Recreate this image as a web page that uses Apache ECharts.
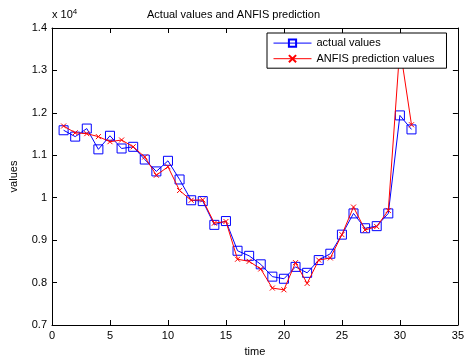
<!DOCTYPE html>
<html>
<head>
<meta charset="utf-8">
<script src="https://cdn.jsdelivr.net/npm/echarts@6/dist/echarts.min.js"></script>
<style>html,body{margin:0;padding:0;background:#fff;}#c{width:467px;height:362px;}</style>
</head>
<body>
<div id="c"></div>
<script>
var time = [1,2,3,4,5,6,7,8,9,10,11,12,13,14,15,16,17,18,19,20,21,22,23,24,25,26,27,28,29,30,31];
var actualValues = [11590,11440,11630,11140,11460,11160,11200,10900,10620,10870,10430,9940,9920,9360,9450,8750,8630,8430,8140,8090,8370,8230,8530,8680,9130,9630,9280,9330,9630,11940,11610];
var anfisValues = [11690,11530,11510,11440,11320,11360,11200,10960,10530,10730,10170,9940,9950,9400,9440,8550,8500,8320,7870,7830,8470,7980,8530,8580,9130,9780,9240,9320,9700,13550,11720];
var yTicks = [0.7,0.8,0.9,1,1.1,1.2,1.3,1.4];

var font = 'Liberation Sans, Arial, Helvetica, sans-serif';
function pairs(xs, ys){ return xs.map(function(x,i){return [x, ys[i]];}); }

var chart = echarts.init(document.getElementById('c'), null, {renderer:'canvas'});
var axisCommon = {
  axisLine:{show:true, onZero:false, lineStyle:{color:'#000', width:1}},
  axisTick:{show:true, inside:true, length:5, lineStyle:{color:'#000'}},
  splitLine:{show:false}
};
chart.setOption({
  animation:false,
  backgroundColor:'#fff',
  title:{text:'Actual values and ANFIS prediction', left:'center', top:4,
    textStyle:{fontFamily:font, fontSize:11, fontWeight:'normal', color:'#000'}},
  grid:{left:51, right:6, top:28, bottom:33},
  legend:{
    orient:'vertical', left:267, top:33, width:174,
    backgroundColor:'#fff', borderColor:'#000', borderWidth:1,
    padding:[4,12,4,6], itemGap:4, itemWidth:38, itemHeight:9,
    lineStyle:{width:1},
    textStyle:{fontFamily:font, fontSize:11, color:'#000'},
    data:['actual values','ANFIS prediction values']
  },
  xAxis:[
    Object.assign({type:'value', min:0, max:35, interval:5, position:'bottom',
      name:'time', nameLocation:'middle', nameGap:21,
      nameTextStyle:{fontFamily:font, fontSize:11, color:'#000'},
      axisLabel:{fontFamily:font, fontSize:11, color:'#000', margin:5}}, axisCommon),
    Object.assign({type:'value', min:0, max:35, interval:5, position:'top',
      axisLabel:{show:false}}, axisCommon)
  ],
  yAxis:[
    Object.assign({type:'value', min:7000, max:14000, interval:1000, position:'left',
      name:'values', nameLocation:'middle', nameGap:33,
      nameTextStyle:{fontFamily:font, fontSize:11, color:'#000'},
      axisLabel:{fontFamily:font, fontSize:11, color:'#000', margin:5,
        formatter:function(v){ var t = Math.round(v/100)/100; var i = yTicks.indexOf(t); return String(i >= 0 ? yTicks[i] : t); }}}, axisCommon),
    Object.assign({type:'value', min:7000, max:14000, interval:1000, position:'right',
      axisLabel:{show:false}}, axisCommon)
  ],
  graphic:[{
    type:'text', left:52, top:8,
    style:{text:'x 10{s|4}', fill:'#000', font:'11px ' + font,
      rich:{s:{fontSize:8, fontFamily:font, verticalAlign:'top', padding:[0,0,6,0]}}}
  }],
  series:[
    {name:'actual values', type:'line', data:pairs(time, actualValues),
      symbol:'rect', symbolSize:9, showAllSymbol:true,
      lineStyle:{color:'#0000ff', width:1},
      itemStyle:{color:'none', borderColor:'#0000ff', borderWidth:1},
      emphasis:{disabled:true}, z:2},
    {name:'ANFIS prediction values', type:'line', data:pairs(time, anfisValues),
      symbol:'path://M0,0L10,10M10,0L0,10', symbolSize:5, showAllSymbol:true,
      lineStyle:{color:'#ff0000', width:1},
      itemStyle:{color:'#ff0000', borderColor:'#ff0000', borderWidth:1},
      emphasis:{disabled:true}, z:3}
  ]
});
</script>
</body>
</html>
